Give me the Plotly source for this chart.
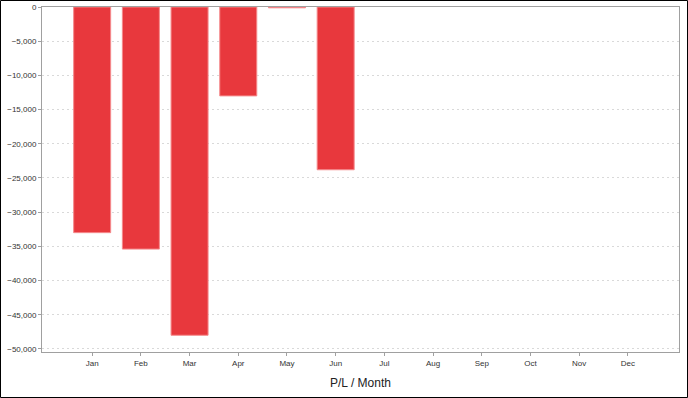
import plotly.graph_objects as go

months = ["Jan", "Feb", "Mar", "Apr", "May", "Jun", "Jul", "Aug", "Sep", "Oct", "Nov", "Dec"]
pl_values = [-33000, -35400, -48000, -13000, -120, -23800, None, None, None, None, None, None]
y_ticks = [0, -5000, -10000, -15000, -20000, -25000, -30000, -35000, -40000, -45000, -50000]

W, H = 688, 398
L, R, T, B = 42, 9, 7, 46
pw, ph = W - L - R, H - T - B

fig = go.Figure()
fig.add_trace(go.Bar(
    x=list(range(len(months))), y=pl_values,
    width=0.76,
    marker=dict(color="#E8383D", line=dict(color="#F58A8C", width=1)),
))

fig.update_layout(
    width=W, height=H,
    margin=dict(l=L, r=R, t=T, b=B),
    paper_bgcolor="white", plot_bgcolor="white",
    showlegend=False,
    font=dict(family="Liberation Sans, Arial, sans-serif", size=8, color="#333"),
    xaxis=dict(
        range=[-1.03, 12.05], automargin=False,
        tickvals=list(range(len(months))), ticktext=months,
        showgrid=False, zeroline=False,
        showline=True, linecolor="#a0a0a0", linewidth=1, mirror=True,
        ticks="outside", ticklen=3, tickcolor="#a0a0a0",
        tickfont=dict(size=8, color="#333"),
        title=dict(text="P/L / Month", font=dict(size=12, color="#222"), standoff=12),
    ),
    yaxis=dict(
        range=[-50450, 0], automargin=False,
        tickvals=y_ticks, tickformat=",d",
        showgrid=True, gridcolor="#d9d9d9", griddash="2px,3px", gridwidth=1,
        zeroline=False,
        showline=True, linecolor="#a0a0a0", linewidth=1, mirror=True,
        ticks="outside", ticklen=3, tickcolor="#a0a0a0",
        tickfont=dict(size=8, color="#333"),
    ),
    shapes=[dict(
        type="rect", xref="paper", yref="paper",
        x0=(0.5 - L) / pw, x1=(W - 0.5 - L) / pw,
        y0=-(H - 0.5 - T - ph) / ph,
        y1=1 + (T - 0.5) / ph,
        line=dict(color="black", width=1),
        layer="above",
    )],
)

fig.write_html("out.html")
